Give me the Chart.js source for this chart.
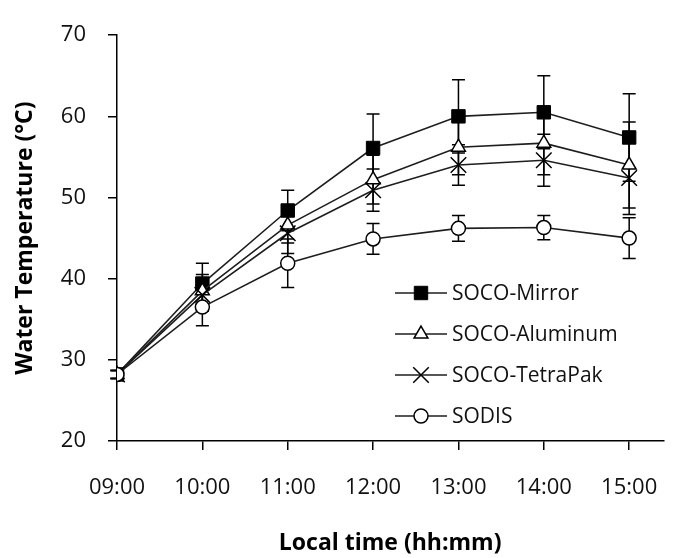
<!DOCTYPE html>
<html>
<head>
<meta charset="utf-8">
<script src="https://cdn.jsdelivr.net/npm/chart.js"></script>
<style>
  html, body { margin: 0; padding: 0; background: #ffffff; }
  #wrap { width: 683px; height: 558px; }
</style>
</head>
<body>
<div id="wrap"><canvas id="c" width="683" height="558"></canvas></div>
<script>
// ---- data ----
const categories = ['09:00', '10:00', '11:00', '12:00', '13:00', '14:00', '15:00'];
const seriesNames = ['SOCO-Mirror', 'SOCO-Aluminum', 'SOCO-TetraPak', 'SODIS'];
const mirror      = [28.2, 39.4, 48.4, 56.1, 60.0, 60.5, 57.4];
const mirrorErr   = [0.5, 2.5, 2.5, 4.2, 4.5, 4.5, 5.4];
const aluminum    = [28.2, 38.5, 46.6, 52.2, 56.2, 56.7, 54.0];
const aluminumErr = [0.5, 2.0, 2.2, 3.0, 3.4, 3.9, 5.3];
const tetrapak    = [28.2, 38.0, 45.6, 50.9, 54.0, 54.6, 52.4];
const tetrapakErr = [0.5, 2.0, 2.5, 2.6, 2.5, 3.2, 4.5];
const sodis       = [28.2, 36.5, 41.9, 44.9, 46.2, 46.3, 45.0];
const sodisErr    = [0.5, 2.3, 3.0, 1.9, 1.6, 1.5, 2.5];
const yTicks = [20, 30, 40, 50, 60, 70];
const xTitle = 'Local time (hh:mm)';
const yTitle = 'Water Temperature (°C)';

const FONT = '"Open Sans", "Liberation Sans", sans-serif';
const toPoints = vals => vals.map((v, i) => ({ x: i, y: v }));

const styles = [
  { pointStyle: 'rect',     radius: 9.5, bg: '#000000', bw: 1 },
  { pointStyle: 'triangle', radius: 8,   bg: '#ffffff', bw: 1.5 },
  { pointStyle: 'crossRot', radius: 11,  bg: '#ffffff', bw: 1.5 },
  { pointStyle: 'circle',   radius: 7,   bg: '#ffffff', bw: 1.5 }
];
const values = [mirror, aluminum, tetrapak, sodis];
const errors = [mirrorErr, aluminumErr, tetrapakErr, sodisErr];

const datasets = seriesNames.map((name, k) => ({
  label: name,
  data: toPoints(values[k]),
  errors: errors[k],
  borderColor: '#1e1e1e',
  borderWidth: 1.6,
  pointStyle: styles[k].pointStyle,
  pointRadius: styles[k].radius,
  pointBackgroundColor: styles[k].bg,
  pointBorderColor: '#000000',
  pointBorderWidth: styles[k].bw,
  fill: false,
  tension: 0,
  order: seriesNames.length - k
}));

// error bars drawn through the chart's own scales
const errorBars = {
  id: 'errorBars',
  beforeDatasetsDraw(chart) {
    const ctx = chart.ctx;
    const xs = chart.scales.x, ys = chart.scales.y;
    ctx.save();
    ctx.strokeStyle = '#000000';
    ctx.lineWidth = 1.5;
    chart.data.datasets.forEach(ds => {
      ds.data.forEach((p, i) => {
        const e = ds.errors[i];
        const px = xs.getPixelForValue(p.x);
        const top = ys.getPixelForValue(p.y + e);
        const bot = ys.getPixelForValue(p.y - e);
        const cap = 6.5;
        ctx.beginPath();
        ctx.moveTo(px, top); ctx.lineTo(px, bot);
        ctx.moveTo(px - cap, top); ctx.lineTo(px + cap, top);
        ctx.moveTo(px - cap, bot); ctx.lineTo(px + cap, bot);
        ctx.stroke();
      });
    });
    ctx.restore();
  }
};

function drawMarker(ctx, style, r, x, y) {
  ctx.beginPath();
  if (style === 'rect') {
    const s = Math.SQRT1_2 * r;
    ctx.rect(x - s, y - s, 2 * s, 2 * s);
  } else if (style === 'triangle') {
    ctx.moveTo(x, y - r);
    ctx.lineTo(x + Math.sin(2 * Math.PI / 3) * r, y - Math.cos(2 * Math.PI / 3) * r);
    ctx.lineTo(x + Math.sin(4 * Math.PI / 3) * r, y - Math.cos(4 * Math.PI / 3) * r);
    ctx.closePath();
  } else if (style === 'crossRot') {
    const d = Math.SQRT1_2 * r;
    ctx.moveTo(x - d, y - d); ctx.lineTo(x + d, y + d);
    ctx.moveTo(x - d, y + d); ctx.lineTo(x + d, y - d);
  } else {
    ctx.arc(x, y, r, 0, Math.PI * 2);
  }
  if (style !== 'crossRot') ctx.fill();
  ctx.stroke();
}

const customLegend = {
  id: 'customLegend',
  afterDraw(chart) {
    const ctx = chart.ctx;
    const x0 = 395, x1 = 447, tx = 452, y0 = 293, dy = 41;
    ctx.save();
    chart.data.datasets.forEach((ds, k) => {
      const y = y0 + k * dy;
      ctx.strokeStyle = '#1e1e1e';
      ctx.lineWidth = 1.6;
      ctx.beginPath(); ctx.moveTo(x0, y); ctx.lineTo(x1, y); ctx.stroke();
      ctx.fillStyle = ds.pointBackgroundColor;
      ctx.strokeStyle = '#000000';
      ctx.lineWidth = ds.pointBorderWidth;
      drawMarker(ctx, ds.pointStyle, ds.pointRadius, (x0 + x1) / 2, y);
      ctx.fillStyle = '#111111';
      ctx.font = '500 21px ' + FONT;
      ctx.textAlign = 'left';
      ctx.textBaseline = 'middle';
      ctx.fillText(ds.label, tx, y + 1);
    });
    ctx.restore();
  }
};

new Chart(document.getElementById('c'), {
  type: 'line',
  data: { datasets },
  plugins: [errorBars, customLegend],
  options: {
    responsive: false,
    animation: false,
    devicePixelRatio: 1,
    layout: { padding: { top: 23, right: 0, bottom: 0, left: 0 } },
    plugins: { legend: { display: false }, tooltip: { enabled: false } },
    scales: {
      x: {
        type: 'linear',
        min: 0,
        max: 6.4,
        afterFit: s => { s.height = 117; },
        afterBuildTicks: s => { s.ticks = categories.map((c, i) => ({ value: i })); },
        ticks: {
          stepSize: 1,
          includeBounds: false,
          padding: 25,
          color: '#111111',
          font: { family: FONT, size: 22, weight: '500' },
          callback: v => categories[v] ?? ''
        },
        grid: { display: true, drawOnChartArea: false, drawTicks: true, tickLength: 9, color: '#000000', lineWidth: 1.5 },
        border: { display: true, color: '#000000', width: 1.5 },
        title: { display: true, text: xTitle, color: '#000000', padding: { top: 0, bottom: 1 },
                 font: { family: FONT, size: 23, weight: 'bold' } }
      },
      y: {
        min: 20,
        max: 70,
        afterFit: s => { s.width = 117; },
        afterBuildTicks: s => { s.ticks = yTicks.map(v => ({ value: v })); },
        ticks: {
          stepSize: 10,
          padding: 22,
          color: '#111111',
          font: { family: FONT, size: 22, weight: '500' }
        },
        grid: { display: true, drawOnChartArea: false, drawTicks: true, tickLength: 9, color: '#000000', lineWidth: 1.5 },
        border: { display: true, color: '#000000', width: 1.5 },
        title: { display: true, text: yTitle, color: '#000000', padding: { top: 12, bottom: 0 },
                 font: { family: FONT, size: 23, weight: 'bold' } }
      }
    }
  }
});
</script>
</body>
</html>
